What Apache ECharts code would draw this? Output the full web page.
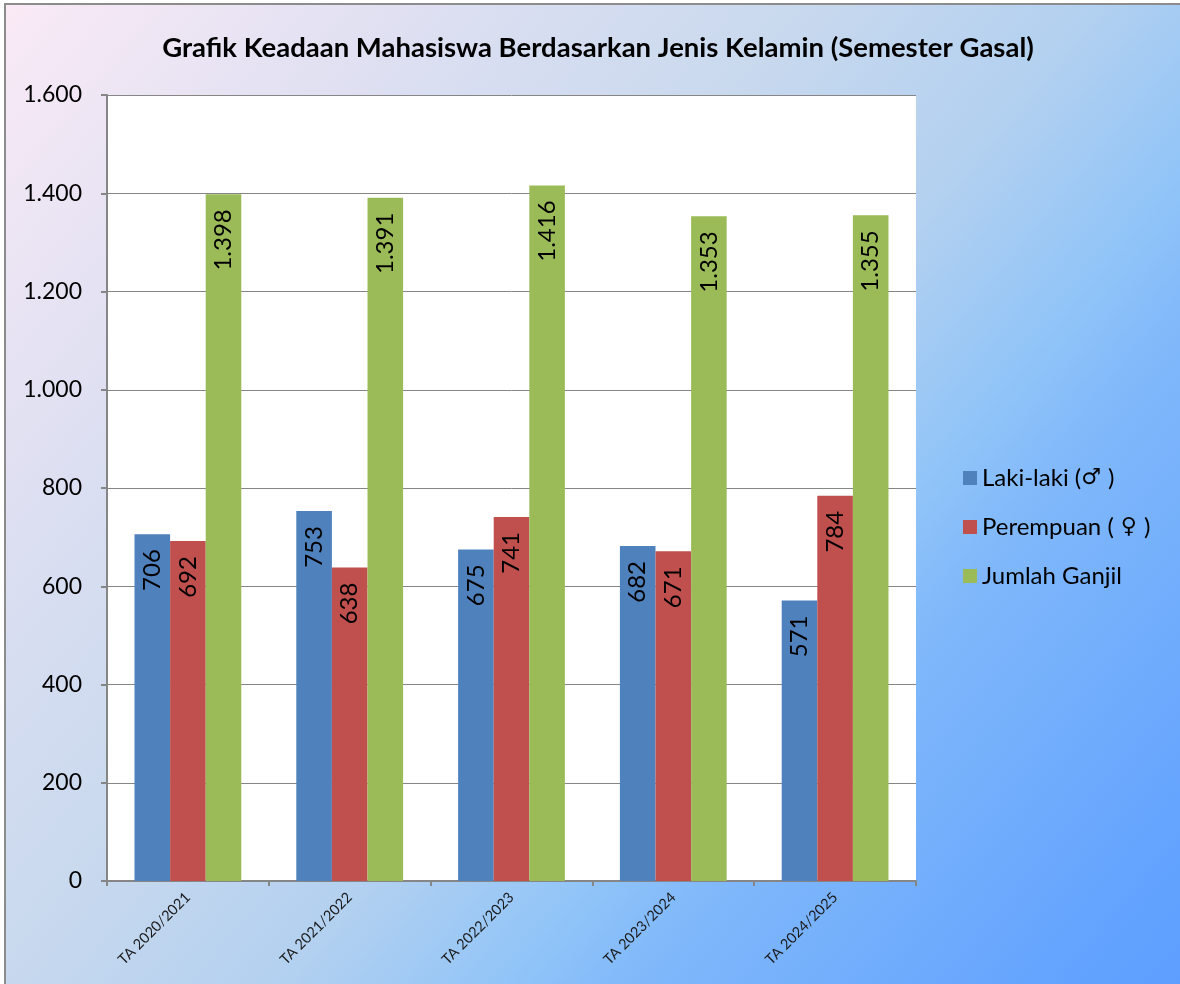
<!DOCTYPE html>
<html>
<head>
<meta charset="utf-8">
<script src="https://cdn.jsdelivr.net/npm/echarts@6/dist/echarts.min.js"></script>
<style>
  html, body { margin: 0; padding: 0; background: #fff; overflow: hidden; }
  #frame {
    position: absolute; left: 4px; top: 3px; width: 1200px; height: 1000px;
    border-left: 2px solid #8c8c8c; border-top: 2px solid #8c8c8c;
    background: linear-gradient(129.8deg, #faeaf6 0%, #dfe0f2 20%, #c9d9ee 39%, #b2d0f0 54%, #90c4f8 65%, #80b8fa 71%, #62a2ff 93%, #5c9cff 100%);
  }
  #main { position: absolute; left: 0; top: 0; width: 1180px; height: 984px; }
</style>
</head>
<body>
<div id="frame"></div>
<div id="main"></div>
<script>
// data
const categories = ["TA 2020/2021", "TA 2021/2022", "TA 2022/2023", "TA 2023/2024", "TA 2024/2025"];
const lakiLaki = [706, 753, 675, 682, 571];
const perempuan = [692, 638, 741, 671, 784];
const jumlahGanjil = [1398, 1391, 1416, 1353, 1355];

const fontFamily = "Lato, 'Liberation Sans', sans-serif";

// format angka ala Indonesia: 1.398
function fmt(v) {
  return String(v).replace(/\B(?=(\d{3})+(?!\d))/g, ".");
}

const chartDom = document.getElementById("main");
const myChart = echarts.init(chartDom, null, { renderer: "canvas" });

const barLabel = {
  show: true,
  position: "insideTop",
  rotate: 90,
  align: "right",
  verticalAlign: "middle",
  distance: 15,
  fontSize: 24,
  fontFamily: fontFamily,
  color: "#000",
  formatter: (p) => fmt(p.value),
};

const option = {
  backgroundColor: "transparent",
  animation: false,
  textStyle: { fontFamily: fontFamily },
  title: {
    text: "Grafik Keadaan Mahasiswa Berdasarkan Jenis Kelamin (Semester Gasal)",
    left: 593,
    textAlign: "center",
    top: 29,
    textStyle: { fontSize: 27.5, fontWeight: "bold", color: "#000", fontFamily: fontFamily },
  },
  legend: {
    orient: "vertical",
    left: 958,
    top: 461,
    itemWidth: 14,
    itemHeight: 14,
    itemGap: 25,
    icon: "rect",
    formatter: (name) => {
      // simbol gender dengan font DejaVu biar lebih besar
      const m = name.match(/^(.*\()(.)(\))$/);
      if (!m) return name;
      const pre = m[2] === "♀" ? " " : "";
      return m[1] + "{sym|" + pre + m[2] + " }" + m[3];
    },
    textStyle: {
      fontSize: 24, color: "#000", fontFamily: fontFamily,
      rich: { sym: { fontSize: 22, fontFamily: "'DejaVu Sans'", color: "#000" } },
    },
  },
  grid: { left: 107, right: 264, top: 95, bottom: 103, backgroundColor: "#fff", show: true, borderWidth: 0 },
  xAxis: {
    type: "category",
    data: categories,
    axisLine: { lineStyle: { color: "#868686", width: 2 } },
    axisTick: { show: true, length: 5, lineStyle: { color: "#868686", width: 2 } },
    axisLabel: { rotate: 45, fontSize: 14.5, color: "#1a1a1a", margin: 14, fontFamily: fontFamily },
  },
  yAxis: {
    type: "value",
    min: 0,
    max: 1600,
    interval: 200,
    axisLine: { show: true, lineStyle: { color: "#868686", width: 2 } },
    axisTick: { show: true, length: 6, lineStyle: { color: "#868686", width: 2 } },
    splitLine: { lineStyle: { color: "#868686", width: 1 } },
    axisLabel: { fontSize: 23, color: "#000", margin: 25, formatter: (v) => fmt(v), fontFamily: fontFamily },
  },
  series: [
    { name: "Laki-laki (♂)", type: "bar", data: lakiLaki, barGap: "0%", barCategoryGap: "34%",
      itemStyle: { color: "#4f81bd" }, label: barLabel },
    { name: "Perempuan (♀)", type: "bar", data: perempuan,
      itemStyle: { color: "#c0504d" }, label: barLabel },
    { name: "Jumlah Ganjil", type: "bar", data: jumlahGanjil,
      itemStyle: { color: "#9bbb59" }, label: barLabel },
  ],
};

option && myChart.setOption(option);
</script>
</body>
</html>
